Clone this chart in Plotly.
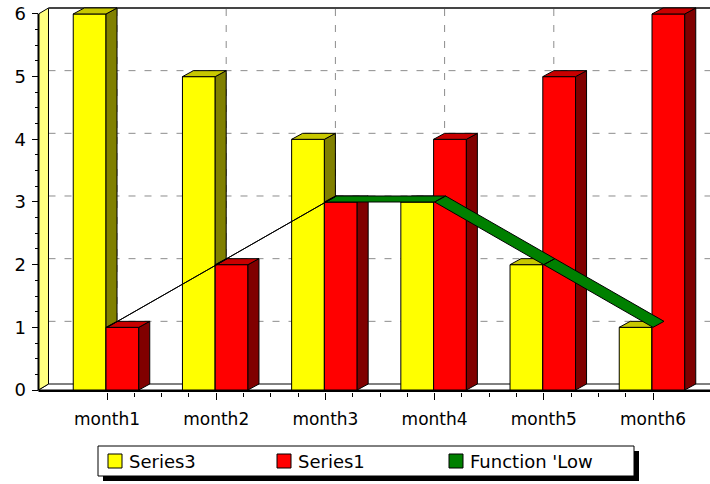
import plotly.graph_objects as go

# ---- data -------------------------------------------------------------
categories = ["month1", "month2", "month3", "month4", "month5", "month6"]
series3 = [6, 5, 4, 3, 2, 1]
series1 = [1, 2, 3, 4, 5, 6]
low_values = [1, 2, 3, 3, 2, 1]          # Function 'Low = min of the two series
y_tick_values = [0, 1, 2, 3, 4, 5, 6]

series_names = ["Series3", "Series1", "Function 'Low"]

# ---- geometry of the pseudo-3D frame ------------------------------------
W, H = 710, 484
FIRST_CAT_PX = 107.0    # screen x of the first category on the front plane
CAT_STEP_PX = 109.2     # pixels between categories
ZERO_PX = 390.0         # screen y of value 0 on the front plane
UNIT_PX = 62.67         # pixels per value unit
AXIS_PX = 38.5          # screen x of the front vertical axis


def xv(px):
    return (px - FIRST_CAT_PX) / CAT_STEP_PX


def yv(py):
    return (ZERO_PX - py) / UNIT_PX


def dxu(px):
    return px / CAT_STEP_PX


def dyu(px):
    return px / UNIT_PX


x_range = [xv(0), xv(W)]
y_range = [yv(H), yv(0)]

WALL_DX, WALL_DY = dxu(10), dyu(6)
BAR_DX, BAR_DY = dxu(11), dyu(6)
BAR_W = 0.30
SHIFT = dxu(1)

x_left = xv(AXIS_PX)
x_right = xv(W + 10)
y_top = max(y_tick_values)

YELLOW = dict(front="#ffff00", side="#808000", top="#c8c800")
RED = dict(front="#ff0000", side="#800000", top="#c80000")
GREEN = "#008000"
FONT = "DejaVu Sans"


def poly_trace(polys, fill, line_color="black", width=1):
    xs, ys = [], []
    for p in polys:
        for a, b in p:
            xs.append(a)
            ys.append(b)
        xs.append(p[0][0])
        ys.append(p[0][1])
        xs.append(None)
        ys.append(None)
    return go.Scatter(x=xs, y=ys, mode="lines", fill="toself", fillcolor=fill,
                      line=dict(color=line_color, width=width),
                      hoverinfo="skip", showlegend=False)


def line_trace(xs, ys, color, width=1, dash=None):
    return go.Scatter(x=xs, y=ys, mode="lines",
                      line=dict(color=color, width=width, dash=dash),
                      hoverinfo="skip", showlegend=False)


def bar_faces(values, offset):
    front, side, top = [], [], []
    for i, v in enumerate(values):
        x0 = i + offset
        x1 = x0 + BAR_W
        front.append([(x0, 0), (x1, 0), (x1, v), (x0, v)])
        side.append([(x1, 0), (x1 + BAR_DX, BAR_DY), (x1 + BAR_DX, v + BAR_DY), (x1, v)])
        top.append([(x0, v), (x1, v), (x1 + BAR_DX, v + BAR_DY), (x0 + BAR_DX, v + BAR_DY)])
    return front, side, top


traces = []

# back-wall grid (dashed), drawn on the rear plane
gx, gy = [], []
for v in y_tick_values[1:-1]:
    gx += [x_left + WALL_DX, x_right, None]
    gy += [v + WALL_DY, v + WALL_DY, None]
for i in range(len(categories)):
    gx += [i + WALL_DX, i + WALL_DX, None]
    gy += [WALL_DY, y_top + WALL_DY, None]
traces.append(line_trace(gx, gy, "#8c8c8c", 1, "7px,9px"))

# floor
traces.append(poly_trace([[(x_left, 0), (x_right, 0), (x_right, WALL_DY),
                           (x_left + WALL_DX, WALL_DY)]], "#ffffff"))
# left wall
traces.append(poly_trace([[(x_left, 0), (x_left, y_top), (x_left + WALL_DX, y_top + WALL_DY),
                           (x_left + WALL_DX, WALL_DY)]], "#ffff80"))
# top edge of the back wall
traces.append(line_trace([x_left + WALL_DX, x_right], [y_top + WALL_DY] * 2, "#454545", 2))

# bars: yellow (Series3) left of each category, red (Series1) right of it
for values, offset, col in ((series3, -BAR_W - SHIFT, YELLOW), (series1, -SHIFT, RED)):
    front, side, top = bar_faces(values, offset)
    traces.append(poly_trace(front, col["front"]))
    traces.append(poly_trace(side, col["side"]))
    traces.append(poly_trace(top, col["top"]))

# Function 'Low as a 3D ribbon
ribbon = []
for i in range(len(low_values) - 1):
    a, b = low_values[i], low_values[i + 1]
    ribbon.append([(i, a), (i + 1, b), (i + 1 + BAR_DX, b + BAR_DY), (i + BAR_DX, a + BAR_DY)])
traces.append(poly_trace(ribbon, GREEN))

# front axis lines
traces.append(line_trace([x_left, x_left], [0, y_top], "black", 2))
traces.append(line_trace([x_left, x_right], [yv(391), yv(391)], "black", 2))

fig = go.Figure(traces)

x_minor = [i + f for i in range(len(categories) - 1) for f in (0.25, 0.5, 0.75)]
y_minor = [v + f for v in y_tick_values[:-1] for f in (0.25, 0.5, 0.75)]

tick_font = dict(family=FONT, size=17, color="black")

fig.update_layout(
    width=W, height=H,
    margin=dict(l=0, r=0, t=0, b=0, pad=0),
    paper_bgcolor="white", plot_bgcolor="white",
    font=dict(family=FONT, size=17, color="black"),
    showlegend=False,
    xaxis=dict(range=x_range, anchor="free", position=1 - 392 / H, automargin=False,
               tickmode="array", tickvals=list(range(len(categories))), ticktext=categories,
               ticks="outside", ticklen=7, tickwidth=1, tickcolor="black",
               minor=dict(tickmode="array", tickvals=x_minor, ticks="outside",
                          ticklen=4, tickwidth=1, tickcolor="black", showgrid=False),
               showgrid=False, zeroline=False, showline=False,
               ticklabelstandoff=5, tickfont=tick_font, fixedrange=True),
    yaxis=dict(range=y_range, anchor="free", position=37.5 / W, automargin=False,
               tickmode="array", tickvals=y_tick_values,
               ticktext=[str(v) for v in y_tick_values],
               ticks="outside", ticklen=6, tickwidth=1, tickcolor="black",
               minor=dict(tickmode="array", tickvals=y_minor, ticks="outside",
                          ticklen=3, tickwidth=1, tickcolor="black", showgrid=False),
               showgrid=False, zeroline=False, showline=False,
               ticklabelstandoff=2, tickfont=dict(family=FONT, size=18, color="black"),
               fixedrange=True),
)

# legend panel with drop shadow
def px_paper(x, y):
    return x / W, 1 - y / H


box = (98, 446, 634, 476)
sx0, sy0 = px_paper(box[0] + 5, box[1] + 5)
sx1, sy1 = px_paper(box[2] + 5, box[3] + 5)
fig.add_shape(type="rect", xref="paper", yref="paper", x0=sx0, y0=sy0, x1=sx1, y1=sy1,
              fillcolor="black", line=dict(width=0), layer="above")
bx0, by0 = px_paper(box[0], box[1])
bx1, by1 = px_paper(box[2], box[3])
fig.add_shape(type="rect", xref="paper", yref="paper", x0=bx0, y0=by0, x1=bx1, y1=by1,
              fillcolor="white", line=dict(color="black", width=1), layer="above")

legend_colors = [YELLOW["front"], RED["front"], GREEN]
legend_x = [108, 277, 449]
for name, color, lx in zip(series_names, legend_colors, legend_x):
    qx0, qy0 = px_paper(lx, 454)
    qx1, qy1 = px_paper(lx + 14, 468)
    fig.add_shape(type="rect", xref="paper", yref="paper", x0=qx0, y0=qy0, x1=qx1, y1=qy1,
                  fillcolor=color, line=dict(color="black", width=1), layer="above")
    tx, ty = px_paper(lx + 19, 461)
    fig.add_annotation(x=tx, y=ty, xref="paper", yref="paper", text=name, showarrow=False,
                       xanchor="left", yanchor="middle",
                       font=dict(family=FONT, size=18, color="black"))

fig.write_html("out.html")
